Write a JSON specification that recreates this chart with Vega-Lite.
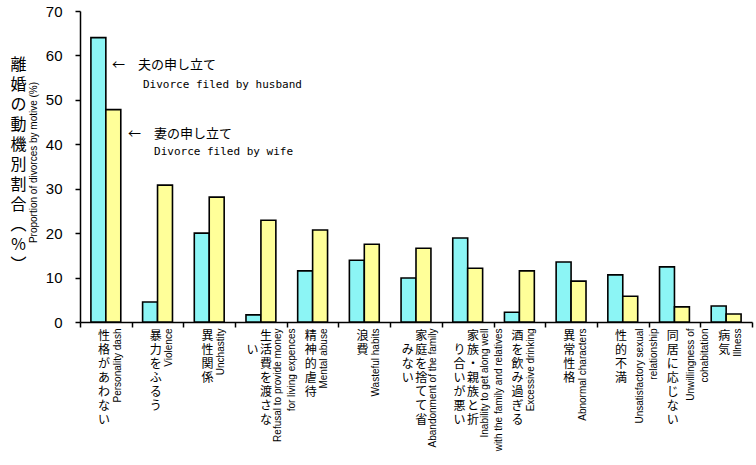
{
  "$schema": "https://vega.github.io/schema/vega-lite/v6.json",
  "width": 672,
  "height": 311,
  "autosize": {"type": "none"},
  "padding": {"left": 80, "top": 11, "right": 4, "bottom": 143},
  "background": "white",
  "config": {
    "view": {"stroke": null},
    "axis": {"grid": false, "domainColor": "black", "tickColor": "black", "labelColor": "black", "titleColor": "black", "domainWidth": 1.5, "tickWidth": 1.5}
  },
  "data": {
    "values": [
      {"motive": "性格があわない||Personality dash", "filer": "夫の申し立て", "pct": 64.0},
      {"motive": "性格があわない||Personality dash", "filer": "妻の申し立て", "pct": 47.8},
      {"motive": "暴力をふるう||Violence", "filer": "夫の申し立て", "pct": 4.5},
      {"motive": "暴力をふるう||Violence", "filer": "妻の申し立て", "pct": 30.8},
      {"motive": "異性関係||Unchastity", "filer": "夫の申し立て", "pct": 20.0},
      {"motive": "異性関係||Unchastity", "filer": "妻の申し立て", "pct": 28.1},
      {"motive": "生活費を渡さな|　　　い|Refusal to provide money;for living expences", "filer": "夫の申し立て", "pct": 1.6},
      {"motive": "生活費を渡さな|　　　い|Refusal to provide money;for living expences", "filer": "妻の申し立て", "pct": 22.9},
      {"motive": "精神的虐待||Mental abuse", "filer": "夫の申し立て", "pct": 11.5},
      {"motive": "精神的虐待||Mental abuse", "filer": "妻の申し立て", "pct": 20.7},
      {"motive": "浪費||Wasteful habits", "filer": "夫の申し立て", "pct": 13.9},
      {"motive": "浪費||Wasteful habits", "filer": "妻の申し立て", "pct": 17.5},
      {"motive": "家庭を捨てて省|　　みない|Abandonment of the family", "filer": "夫の申し立て", "pct": 9.9},
      {"motive": "家庭を捨てて省|　　みない|Abandonment of the family", "filer": "妻の申し立て", "pct": 16.6},
      {"motive": "家族・親族と折|　り合いが悪い|Inability to get along well;with the family and relatives", "filer": "夫の申し立て", "pct": 18.9},
      {"motive": "家族・親族と折|　り合いが悪い|Inability to get along well;with the family and relatives", "filer": "妻の申し立て", "pct": 12.1},
      {"motive": "酒を飲み過ぎる||Excessive drinking", "filer": "夫の申し立て", "pct": 2.2},
      {"motive": "酒を飲み過ぎる||Excessive drinking", "filer": "妻の申し立て", "pct": 11.5},
      {"motive": "異常性格||Abnormal characters", "filer": "夫の申し立て", "pct": 13.5},
      {"motive": "異常性格||Abnormal characters", "filer": "妻の申し立て", "pct": 9.2},
      {"motive": "性的不満||Unsatisfactory sexual;relationship", "filer": "夫の申し立て", "pct": 10.6},
      {"motive": "性的不満||Unsatisfactory sexual;relationship", "filer": "妻の申し立て", "pct": 5.8},
      {"motive": "同居に応じない||Unwillingness of;cohabitation", "filer": "夫の申し立て", "pct": 12.4},
      {"motive": "同居に応じない||Unwillingness of;cohabitation", "filer": "妻の申し立て", "pct": 3.4},
      {"motive": "病気||Illness", "filer": "夫の申し立て", "pct": 3.6},
      {"motive": "病気||Illness", "filer": "妻の申し立て", "pct": 1.8}
    ]
  },
  "layer": [
    {
      "mark": {"type": "bar", "stroke": "black", "strokeWidth": 1.6},
      "encoding": {
        "x": {
          "field": "motive", "type": "nominal", "sort": null,
          "scale": {"paddingInner": 0, "paddingOuter": 0},
          "axis": {
            "orient": "bottom", "title": null, "tickBand": "extent", "tickSize": 5,
            "labelExpr": "isString(datum.value) ? split(split(datum.value, '|')[0], '') : ''",
            "labelAngle": 0, "labelAlign": "center", "labelBaseline": "top",
            "labelFont": "Noto Sans CJK JP", "labelFontSize": 12, "labelLineHeight": 14,
            "labelPadding": 3, "labelOverlap": false, "labelBound": false, "labelLimit": 0,
            "labelOffset": {"condition": {"test": "isString(datum.value) && split(datum.value, '|')[1] != ''", "value": 4.7}, "value": -2.3}
          }
        },
        "xOffset": {"field": "filer", "type": "nominal", "sort": null, "scale": {"paddingInner": 0, "paddingOuter": 0.73}},
        "y": {
          "field": "pct", "type": "quantitative", "scale": {"domain": [0, 70]},
          "axis": {
            "orient": "left", "values": [0, 10, 20, 30, 40, 50, 60, 70], "tickSize": 5,
            "labelFont": "Liberation Sans", "labelFontSize": 15, "labelPadding": 13,
            "title": "Proportion of divorces by motive (%)", "titleFont": "Liberation Sans", "titleFontSize": 10,
            "titleFontWeight": "normal", "titleAngle": -90, "titleAlign": "center", "titleBaseline": "middle",
            "titleX": -47, "titleY": 151
          }
        },
        "color": {"field": "filer", "type": "nominal", "sort": null, "scale": {"range": ["#8cf5f5", "#ffff99"]}, "legend": null}
      }
    },
    {
      "transform": [{"filter": "indexof(datum.motive, '性格') == 0 && datum.filer == '夫の申し立て'"}],
      "mark": {"type": "text", "text": "←　夫の申し立て", "align": "left", "baseline": "middle", "dx": 13.6, "dy": 27.5, "font": "Noto Sans CJK JP", "fontSize": 13, "color": "black"},
      "encoding": {
        "x": {
          "field": "motive", "type": "nominal", "sort": null,
          "axis": {
            "orient": "bottom", "title": null, "domain": false, "ticks": false,
            "labelExpr": "split(split(datum.value, '|')[1], '')",
            "labelAngle": 0, "labelAlign": "center", "labelBaseline": "top",
            "labelFont": "Noto Sans CJK JP", "labelFontSize": 12, "labelLineHeight": 14,
            "labelPadding": 8, "labelOverlap": false, "labelBound": false, "labelLimit": 0,
            "labelOffset": -8.3
          }
        },
        "xOffset": {"field": "filer", "type": "nominal", "sort": null},
        "y": {
          "field": "pct", "type": "quantitative",
          "axis": {
            "orient": "left", "domain": false, "labels": false, "ticks": false,
            "title": ["離", "婚", "の", "動", "機", "別", "割", "合", "︵", "％", "︶"],
            "titleAngle": 0, "titleFont": "Noto Sans CJK JP", "titleFontSize": 16, "titleFontWeight": "normal",
            "titleLineHeight": 20, "titleAlign": "center", "titleBaseline": "top", "titleX": -62, "titleY": 45
          }
        }
      }
    },
    {
      "transform": [{"filter": "indexof(datum.motive, '性格') == 0 && datum.filer == '夫の申し立て'"}],
      "mark": {"type": "text", "text": "Divorce filed by husband", "align": "left", "baseline": "middle", "dx": 44.6, "dy": 47.5, "font": "DejaVu Sans Mono", "fontSize": 11, "color": "black"},
      "encoding": {
        "x": {
          "field": "motive", "type": "nominal", "sort": null,
          "axis": {
            "orient": "bottom", "title": null, "domain": false, "ticks": false,
            "labelExpr": "split(split(datum.value, '|')[2], ';')",
            "labelAngle": -90, "labelAlign": "right", "labelBaseline": "top",
            "labelFont": "Liberation Sans", "labelFontSize": 10, "labelLineHeight": 14,
            "labelPadding": 6, "labelOverlap": false, "labelBound": false, "labelLimit": 0,
            "labelOffset": {
              "condition": [
                {"test": "indexof(datum.value, ';') >= 0", "value": 12},
                {"test": "indexof(datum.value, 'Abandonment') >= 0", "value": 11.7}
              ],
              "value": 6.7
            }
          }
        },
        "xOffset": {"field": "filer", "type": "nominal", "sort": null},
        "y": {"field": "pct", "type": "quantitative", "axis": null}
      }
    },
    {
      "transform": [{"filter": "indexof(datum.motive, '性格') == 0 && datum.filer == '妻の申し立て'"}],
      "mark": {"type": "text", "text": "←　妻の申し立て", "align": "left", "baseline": "middle", "dx": 14.7, "dy": 24, "font": "Noto Sans CJK JP", "fontSize": 13, "color": "black"},
      "encoding": {
        "x": {"field": "motive", "type": "nominal", "sort": null, "axis": null},
        "xOffset": {"field": "filer", "type": "nominal", "sort": null},
        "y": {"field": "pct", "type": "quantitative", "axis": null}
      }
    },
    {
      "transform": [{"filter": "indexof(datum.motive, '性格') == 0 && datum.filer == '妻の申し立て'"}],
      "mark": {"type": "text", "text": "Divorce filed by wife", "align": "left", "baseline": "middle", "dx": 40.7, "dy": 42, "font": "DejaVu Sans Mono", "fontSize": 11, "color": "black"},
      "encoding": {
        "x": {"field": "motive", "type": "nominal", "sort": null, "axis": null},
        "xOffset": {"field": "filer", "type": "nominal", "sort": null},
        "y": {"field": "pct", "type": "quantitative", "axis": null}
      }
    }
  ],
  "resolve": {"axis": {"x": "independent", "y": "independent"}}
}
